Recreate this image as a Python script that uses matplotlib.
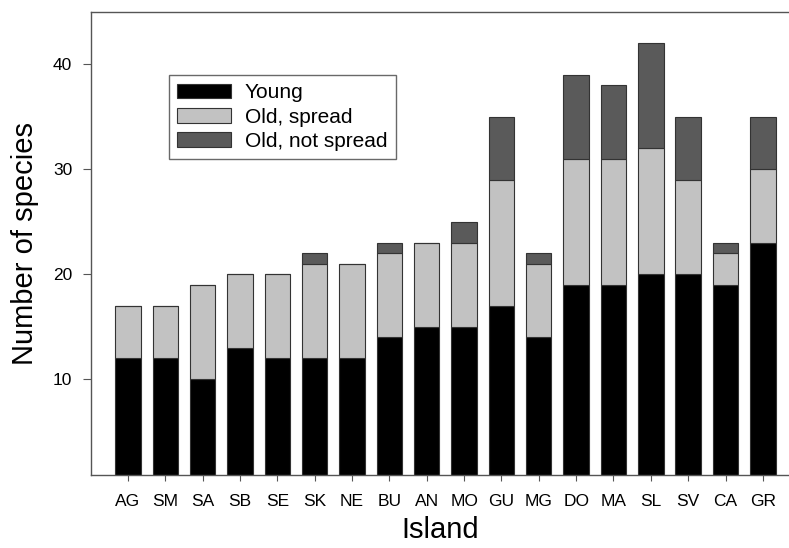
import numpy as np
import matplotlib
matplotlib.use('Agg')
import matplotlib.pyplot as plt

plt.rcParams['font.family'] = ['Liberation Sans', 'DejaVu Sans']

islands = ['AG', 'SM', 'SA', 'SB', 'SE', 'SK', 'NE', 'BU', 'AN', 'MO',
           'GU', 'MG', 'DO', 'MA', 'SL', 'SV', 'CA', 'GR']
young = [12, 12, 10, 13, 12, 12, 12, 14, 15, 15, 17, 14, 19, 19, 20, 20, 19, 23]
old_spread = [5, 5, 9, 7, 8, 9, 9, 8, 8, 8, 12, 7, 12, 12, 12, 9, 3, 7]
old_not_spread = [0, 0, 0, 0, 0, 1, 0, 1, 0, 2, 6, 1, 8, 7, 10, 6, 1, 5]

x = np.arange(len(islands))
young = np.array(young)
old_spread = np.array(old_spread)
old_not_spread = np.array(old_not_spread)

fig = plt.figure(figsize=(7.89, 5.48), dpi=100)
ax = fig.add_axes([91/789, 1 - 475/548, 698/789, 463/548])

edge = '#333333'
w = 0.68
ax.bar(x, young, w, color='black', edgecolor=edge, linewidth=0.8, label='Young')
ax.bar(x, old_spread, w, bottom=young, color='#c2c2c2', edgecolor=edge,
       linewidth=0.8, label='Old, spread')
ax.bar(x, old_not_spread, w, bottom=young + old_spread, color='#5a5a5a',
       edgecolor=edge, linewidth=0.8, label='Old, not spread')

ax.set_xlim(-0.99, 17.7)
ax.set_ylim(0.9, 45)
ax.set_yticks([10, 20, 30, 40])
ax.set_xticks(x)
ax.set_xticklabels(islands)
ax.tick_params(axis='both', labelsize=12.5, color='#555555', direction='out')
ax.tick_params(axis='y', length=5.5, pad=8)
ax.tick_params(axis='x', length=4, pad=10)

for s in ['left', 'bottom', 'top']:
    ax.spines[s].set_color('#555555')
    ax.spines[s].set_linewidth(1.0)
ax.spines['right'].set_visible(False)

ax.set_xlabel('Island', fontsize=21, labelpad=5)
ax.set_ylabel('Number of species', fontsize=21, labelpad=10)

leg = ax.legend(loc='upper left', bbox_to_anchor=(0.1117, 0.864), borderaxespad=0,
                fontsize=15, frameon=True, fancybox=False, edgecolor='#444444',
                handlelength=2.6, handleheight=0.7, handletextpad=0.65,
                labelspacing=0.25, borderpad=0.4)
leg.get_frame().set_linewidth(1.0)

fig.savefig('out.png', dpi=100)
